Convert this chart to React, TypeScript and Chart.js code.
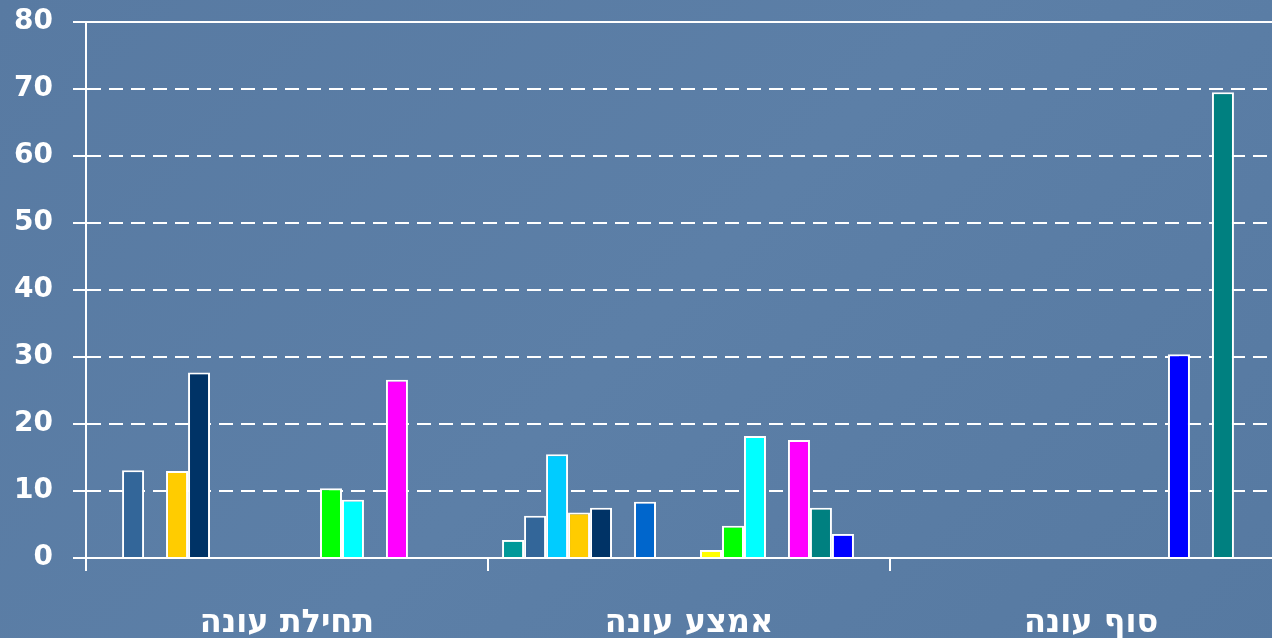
import React, { useEffect, useRef } from "react";
import { Chart, registerables } from "chart.js";

Chart.register(...registerables);

const categories = ["תחילת עונה", "אמצע עונה", "סוף עונה"];
const yTicks = [0, 10, 20, 30, 40, 50, 60, 70, 80];

const seriesColors = [
  "#009999", "#336699", "#00CCFF", "#FFCC00", "#003366", "#3366CC",
  "#0066CC", "#9999FF", "#CC99FF", "#FFFF00", "#00FF00", "#00FFFF",
  "#0000FF", "#FF00FF", "#008080", "#0000FF", "#99CCFF",
];

const s0 = [null, 2.7, null];
const s1 = [13.1, 6.3, null];
const s2 = [null, 15.5, null];
const s3 = [13.0, 6.8, null];
const s4 = [27.7, 7.5, null];
const s5 = [null, null, null];
const s6 = [null, 8.4, null];
const s7 = [null, null, null];
const s8 = [null, null, null];
const s9 = [null, 1.2, null];
const s10 = [10.4, 4.8, null];
const s11 = [8.7, 18.2, null];
const s12 = [null, null, 30.4];
const s13 = [26.6, 17.6, null];
const s14 = [null, 7.5, 69.5];
const s15 = [null, 3.6, null];
const s16 = [null, null, null];

const seriesValues = [s0, s1, s2, s3, s4, s5, s6, s7, s8, s9, s10, s11, s12, s13, s14, s15, s16];

export default function App() {
  const ref = useRef<HTMLCanvasElement | null>(null);

  useEffect(() => {
    if (!ref.current) return;
    const chart = new Chart(ref.current, {
      type: "bar",
      data: {
        labels: categories,
        datasets: seriesValues.map((vals, i) => ({
          label: "S" + (i + 1),
          data: vals,
          backgroundColor: seriesColors[i],
          borderColor: "#FFFFFF",
          borderWidth: 2,
          categoryPercentage: 0.93,
          barPercentage: 1.0,
        })),
      },
      options: {
        responsive: false,
        animation: false,
        maintainAspectRatio: false,
        layout: { padding: { top: 22, right: 8, left: 0, bottom: 0 } },
        plugins: {
          legend: { display: false },
          tooltip: { enabled: false },
        },
        scales: {
          x: {
            grid: {
              display: true,
              drawOnChartArea: false,
              drawTicks: true,
              tickLength: 13,
              color: "#FFFFFF",
              lineWidth: 2,
              offset: true,
            },
            border: { display: true, color: "#FFFFFF", width: 2 },
            ticks: {
              color: "#FFFFFF",
              padding: 33,
              font: { family: "'DejaVu Sans', 'Liberation Sans', sans-serif", size: 32, weight: "bold" },
            },
            afterFit: (scale: any) => {
              scale.height = 80;
            },
          },
          y: {
            min: 0,
            max: 80,
            afterBuildTicks: (scale: any) => {
              scale.ticks = yTicks.map((v) => ({ value: v }));
            },
            grid: {
              color: "#FFFFFF",
              lineWidth: 2,
              tickLength: 13,
              drawTicks: true,
            },
            border: {
              display: true,
              color: "#FFFFFF",
              width: 2,
              dash: (ctx: any) => (ctx.tick && ctx.tick.value === 80 ? [] : [14, 8]),
            },
            ticks: {
              color: "#FFFFFF",
              padding: 20,
              font: { family: "'DejaVu Sans', sans-serif", size: 28, weight: "bold", lineHeight: 0.05 },
            },
            afterFit: (scale: any) => {
              scale.width = 86;
            },
          },
        },
      },
    });
    return () => chart.destroy();
  }, []);

  return (
    <div
      style={{
        position: "fixed",
        left: 0,
        top: 0,
        width: 1300,
        height: 638,
        background: "linear-gradient(135deg, #587aa2 0%, #5c7fa7 50%, #5679a1 100%)",
        overflow: "hidden",
      }}
    >
      <canvas ref={ref} width={1300} height={638} style={{ display: "block" }} />
    </div>
  );
}
